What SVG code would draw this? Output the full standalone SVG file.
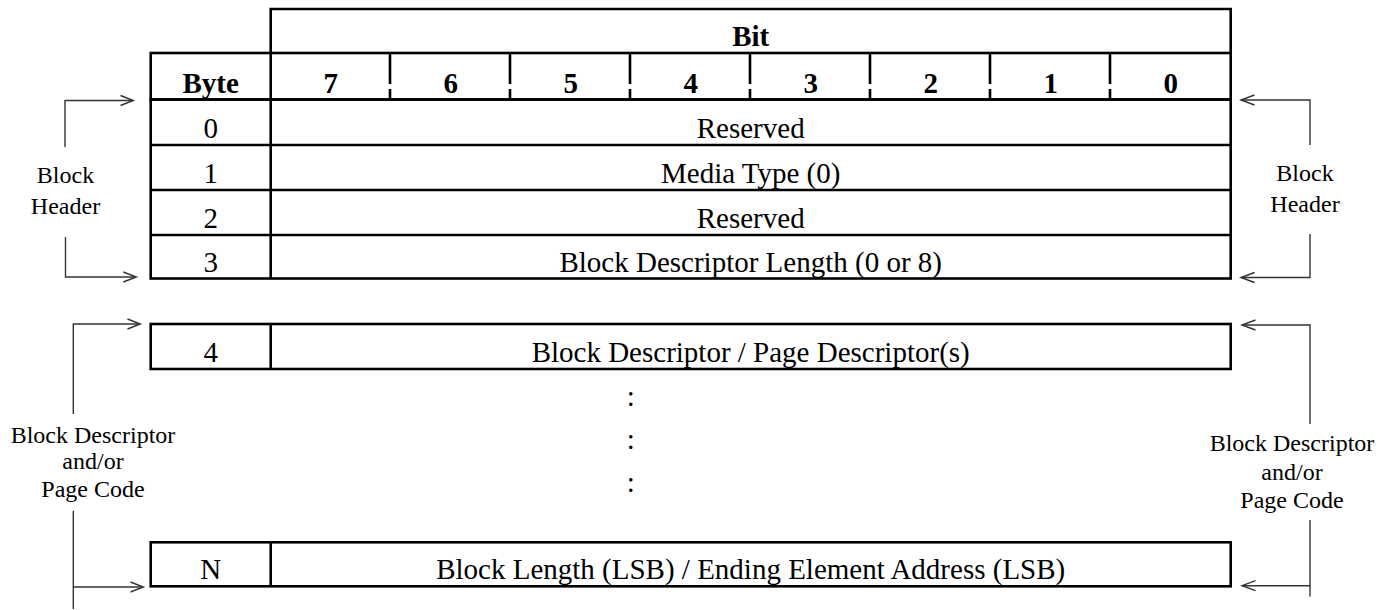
<svg xmlns="http://www.w3.org/2000/svg" width="1396" height="610" viewBox="0 0 1396 610">
  <style>
    .grid { fill: none; stroke: #000; stroke-width: 2.6; }
    .cell { font-family: "Liberation Serif", "Times New Roman", serif; font-size: 29px; fill: #000; text-anchor: middle; }
    .hdr { font-weight: bold; }
    .side { font-family: "Liberation Serif", "Times New Roman", serif; font-size: 24px; fill: #000; text-anchor: middle; }
    .wire { fill: none; stroke: #333; stroke-width: 1.4; }
    .head { fill: none; stroke: #333; stroke-width: 1.4; stroke-linejoin: miter; }
  </style>
  <rect width="1396" height="610" fill="#fff"/>

  <!-- Header table: bit numbers -->
  <g id="header">
    <path class="grid" d="M270.7 53 V9 H1230.7 V53"/>
    <rect class="grid" x="150.7" y="53" width="1080" height="46.5"/>
    <line class="grid" x1="270.7" y1="53" x2="270.7" y2="99.5"/>
    <g class="grid">
      <path d="M390 53 V84 M390 89 V99.5"/>
      <path d="M510 53 V84 M510 89 V99.5"/>
      <path d="M630 53 V84 M630 89 V99.5"/>
      <path d="M750 53 V84 M750 89 V99.5"/>
      <path d="M870 53 V84 M870 89 V99.5"/>
      <path d="M990 53 V84 M990 89 V99.5"/>
      <path d="M1110 53 V84 M1110 89 V99.5"/>
    </g>
    <text class="cell hdr" x="750.7" y="45.5">Bit</text>
    <text class="cell hdr" x="210.7" y="92.5">Byte</text>
    <text class="cell hdr" x="330.7" y="92.5">7</text>
    <text class="cell hdr" x="450.7" y="92.5">6</text>
    <text class="cell hdr" x="570.7" y="92.5">5</text>
    <text class="cell hdr" x="690.7" y="92.5">4</text>
    <text class="cell hdr" x="810.7" y="92.5">3</text>
    <text class="cell hdr" x="930.7" y="92.5">2</text>
    <text class="cell hdr" x="1050.7" y="92.5">1</text>
    <text class="cell hdr" x="1170.7" y="92.5">0</text>
  </g>

  <!-- Block header rows, bytes 0..3 -->
  <g id="block-header-rows">
    <rect class="grid" x="150.7" y="99.5" width="1080" height="179"/>
    <path class="grid" d="M270.7 99.5 V278.5 M150.7 145 H1230.7 M150.7 190 H1230.7 M150.7 235 H1230.7"/>
    <text class="cell" x="210.7" y="138">0</text>
    <text class="cell" x="750.7" y="138">Reserved</text>
    <text class="cell" x="210.7" y="183">1</text>
    <text class="cell" x="750.7" y="183">Media Type (0)</text>
    <text class="cell" x="210.7" y="227.5">2</text>
    <text class="cell" x="750.7" y="227.5">Reserved</text>
    <text class="cell" x="210.7" y="271.5">3</text>
    <text class="cell" x="750.7" y="271.5">Block Descriptor Length (0 or 8)</text>
  </g>

  <!-- Byte 4 -->
  <g id="row-4">
    <rect class="grid" x="150.7" y="324" width="1080" height="45"/>
    <line class="grid" x1="270.7" y1="324" x2="270.7" y2="369"/>
    <text class="cell" x="210.7" y="361.5">4</text>
    <text class="cell" x="750.7" y="361.5">Block Descriptor / Page Descriptor(s)</text>
  </g>

  <!-- Continuation marks -->
  <g id="ellipsis">
    <text class="cell" x="630.7" y="406">:</text>
    <text class="cell" x="630.7" y="449">:</text>
    <text class="cell" x="630.7" y="492">:</text>
  </g>

  <!-- Byte N -->
  <g id="row-n">
    <rect class="grid" x="150.7" y="542.3" width="1080" height="44"/>
    <line class="grid" x1="270.7" y1="542.3" x2="270.7" y2="586.3"/>
    <text class="cell" x="210.7" y="579">N</text>
    <text class="cell" x="750.7" y="579">Block Length (LSB) / Ending Element Address (LSB)</text>
  </g>

  <!-- Side labels -->
  <g id="label-header-left">
    <text class="side" x="65.5" y="183">Block</text>
    <text class="side" x="65.5" y="214">Header</text>
  </g>
  <g id="label-header-right">
    <text class="side" x="1305" y="181">Block</text>
    <text class="side" x="1305" y="212">Header</text>
  </g>
  <g id="label-desc-left">
    <text class="side" x="93" y="443">Block Descriptor</text>
    <text class="side" x="93" y="469">and/or</text>
    <text class="side" x="93" y="497">Page Code</text>
  </g>
  <g id="label-desc-right">
    <text class="side" x="1292" y="451">Block Descriptor</text>
    <text class="side" x="1292" y="480">and/or</text>
    <text class="side" x="1292" y="508">Page Code</text>
  </g>

  <!-- Bracket connectors with open arrowheads -->
  <g id="connectors">
    <!-- left, block header -->
    <path class="wire" d="M65 147 V100.5 H133"/>
    <path class="head" d="M120.5 95.5 L133.3 100.5 L120.5 105.5"/>
    <path class="wire" d="M65.5 237 V277 H136"/>
    <path class="head" d="M123.3 272 L136.3 277 L123.3 282"/>
    <!-- right, block header -->
    <path class="wire" d="M1310 145 V100 H1241"/>
    <path class="head" d="M1254.5 95 L1241 100 L1254.5 105"/>
    <path class="wire" d="M1310 234 V277.5 H1241"/>
    <path class="head" d="M1254.5 272.5 L1241 277.5 L1254.5 282.5"/>
    <!-- left, descriptor block -->
    <path class="wire" d="M73.3 414 V324 H140"/>
    <path class="head" d="M127.5 319 L140.3 324 L127.5 329"/>
    <path class="wire" d="M73.3 510.7 V609"/>
    <path class="wire" d="M73.3 587 H143"/>
    <path class="head" d="M130.5 582 L143.3 587 L130.5 592"/>
    <!-- right, descriptor block -->
    <path class="wire" d="M1310 424 V325 H1242"/>
    <path class="head" d="M1255.5 320 L1242 325 L1255.5 330"/>
    <path class="wire" d="M1310 520 V596.5"/>
    <path class="wire" d="M1310 585.7 H1242"/>
    <path class="head" d="M1255.5 580.7 L1242 585.7 L1255.5 590.7"/>
  </g>
</svg>
